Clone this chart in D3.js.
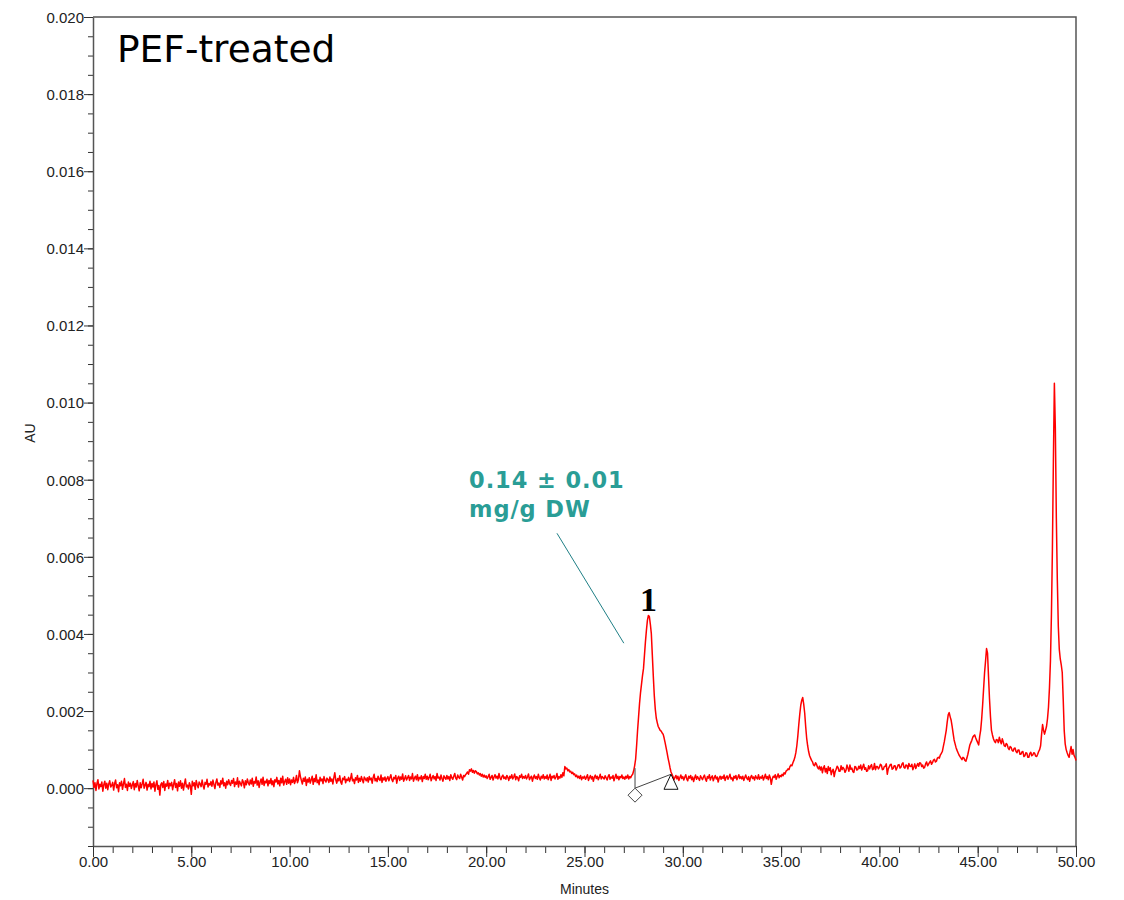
<!DOCTYPE html>
<html>
<head>
<meta charset="utf-8">
<script src="https://cdn.jsdelivr.net/npm/d3@7"></script>
<style>
  body { margin: 0; background: #fff; }
  .tick text { font-family: "Liberation Sans", Arial, sans-serif; font-size: 15px; fill: #222; }
</style>
</head>
<body>
<div id="chart"></div>
<script>
// detector signal, one reading every 0.05 min from 0.00 to 50.00, in units of 1e-5 AU
var sampleStep = 0.05;
var signal = [
  20, 2, 14, -6, 12, 22, -2, 10, 4, 16, -8, 9, 18, 0, 13, -4, 11, 19, 3, 7,
  15, -5, 12, 21, 1, 9, -9, 14, 6, 18, -3, 11, 25, 2, 10, -6, 16, 5, 13, -1,
  9, 17, -4, 12, 3, 20, 6, -7, 14, 1, 11, 23, 0, 8, 15, -5, 10, 4, 18, -2,
  12, 3, 16, -8, 9, 19, -3, 7, -18, 10, 14, 2, 17, -6, 11, 5, 20, -1, 13, 6,
  15, -4, 10, 22, 2, 12, -7, 16, 5, 19, 0, 13, -5, 11, 24, 3, 8, -2, 14, 6,
  -16, 18, 6, 14, -3, 20, 9, 1, 16, 11, 4, 21, 7, -2, 15, 10, 23, 3, 12, 8,
  17, 5, 21, 10, -1, 15, 24, 8, 13, 2, 19, 11, 26, 6, 14, 0, 18, 9, 22, 12,
  7, 20, 13, 25, 4, 16, 10, 27, 3, 18, 12, 6, 22, 15, 1, 19, 9, 24, 14, 8,
  21, 11, 26, 5, 17, 13, 29, 8, 19, 2, 16, 24, 10, 28, 7, 18, 14, 23, 6, 20,
  12, 25, 9, 19, 4, 22, 16, 28, 11, 20, 6, 26, 14, 31, 8, 17, 23, 10, 27, 13,
  24, 9, 21, 15, 28, 12, 19, 33, 14, 22, 45, 30, 20, 11, 26, 18, 29, 7, 23, 16,
  27, 13, 22, 31, 10, 25, 17, 35, 14, 21, 9, 28, 19, 24, 12, 30, 20, 16, 26, 22,
  15, 29, 18, 24, 11, 27, 40, 21, 13, 25, 19, 32, 16, 10, 26, 22, 30, 14, 23, 20,
  28, 17, 25, 38, 19, 23, 12, 27, 21, 33, 15, 26, 18, 30, 22, 14, 29, 24, 19, 27,
  16, 30, 22, 26, 13, 28, 36, 19, 25, 17, 31, 23, 20, 34, 15, 27, 21, 29, 18, 25,
  30, 19, 27, 35, 22, 17, 28, 24, 33, 13, 26, 31, 20, 29, 23, 37, 18, 25, 32, 21,
  27, 33, 20, 29, 24, 38, 18, 26, 31, 22, 35, 19, 28, 24, 32, 17, 30, 25, 36, 23,
  31, 22, 28, 36, 19, 27, 33, 24, 30, 20, 38, 26, 29, 21, 34, 25, 18, 32, 27, 23,
  33, 24, 30, 20, 35, 27, 23, 31, 38, 26, 22, 34, 28, 25, 36, 29, 21, 33, 30, 35,
  38, 42, 36, 48, 44, 50, 41, 46, 39, 45, 43, 37, 40, 34, 38, 31, 36, 29, 34, 28,
  32, 25, 30, 36, 23, 28, 33, 21, 29, 35, 26, 31, 24, 38, 27, 22, 30, 34, 25, 29,
  23, 33, 28, 20, 31, 26, 35, 24, 29, 37, 22, 30, 27, 19, 32, 28, 36, 25, 30, 26,
  33, 24, 29, 37, 22, 27, 31, 18, 28, 34, 25, 30, 23, 36, 27, 21, 31, 26, 35, 24,
  30, 25, 34, 22, 28, 36, 20, 31, 27, 33, 24, 29, 38, 23, 30, 26, 35, 28, 40, 32,
  56, 50, 52, 45, 48, 42, 44, 38, 41, 35, 37, 30, 34, 27, 31, 25, 33, 22, 29, 26,
  31, 23, 28, 35, 20, 27, 33, 24, 30, 18, 29, 34, 25, 31, 22, 28, 36, 24, 30, 27,
  24, 32, 27, 21, 30, 35, 23, 29, 26, 33, 19, 28, 36, 25, 31, 22, 30, 27, 34, 25,
  29, 23, 31, 26, 34, 24, 30, 27, 33, 36, 45, 58, 75, 110, 150, 185, 220, 248, 270, 292,
  310, 345, 380, 410, 435, 448, 445, 425, 400, 345, 290, 240, 205, 182, 170, 160, 155, 150, 148, 143,
  140, 130, 118, 105, 92, 78, 66, 53, 42, 36, 30, 22, 28, 33, 24, 31, 20, 27, 34, 25,
  30, 21, 28, 35, 24, 19, 31, 26, 33, 22, 29, 17, 27, 34, 23, 30, 25, 20, 32, 27,
  22, 29, 34, 24, 18, 30, 26, 35, 21, 28, 32, 19, 27, 33, 24, 29, 16, 26, 31, 23,
  30, 25, 34, 20, 28, 32, 23, 29, 36, 24, 27, 19, 31, 26, 33, 22, 28, 35, 25, 30,
  24, 31, 20, 27, 34, 26, 22, 30, 18, 28, 33, 25, 29, 21, 32, 27, 24, 35, 23, 29,
  26, 33, 21, 28, 36, 25, 30, 22, 34, 27, 10, 24, 31, 28, 35, 23, 30, 37, 27, 33,
  30, 36, 32, 40, 37, 44, 46, 50, 48, 56, 60, 58, 66, 72, 80, 92, 110, 135, 165, 192,
  215, 228, 235, 218, 195, 160, 130, 110, 95, 84, 78, 72, 68, 60, 58, 66, 62, 54, 50, 57,
  47, 55, 40, 52, 58, 42, 51, 38, 56, 46, 53, 35, 45, 49, 30, 43, 49, 57, 53, 44,
  44, 58, 48, 54, 50, 41, 46, 60, 52, 44, 60, 49, 52, 43, 41, 56, 55, 47, 48, 57,
  51, 60, 47, 55, 62, 49, 53, 44, 45, 58, 50, 57, 61, 48, 50, 64, 48, 56, 56, 50,
  54, 62, 60, 48, 49, 56, 57, 63, 36, 50, 55, 61, 62, 49, 51, 58, 58, 47, 53, 60,
  61, 52, 55, 63, 66, 54, 52, 60, 59, 50, 64, 57, 56, 62, 48, 55, 63, 51, 58, 64,
  57, 66, 65, 56, 60, 52, 54, 63, 68, 58, 62, 67, 71, 62, 66, 73, 75, 68, 70, 78,
  80, 78, 86, 90, 95, 108, 120, 135, 150, 172, 190, 196, 185, 176, 160, 142, 125, 115, 105, 98,
  92, 86, 82, 78, 74, 80, 78, 72, 70, 78, 88, 100, 112, 118, 124, 132, 136, 138, 130, 124,
  118, 112, 134, 150, 178, 215, 258, 300, 330, 362, 350, 290, 232, 185, 150, 138, 128, 122, 118, 126,
  125, 118, 132, 122, 115, 128, 120, 110, 108, 116, 113, 104, 100, 108, 106, 98, 96, 103, 104, 95,
  92, 99, 99, 88, 88, 94, 95, 82, 84, 92, 91, 80, 80, 90, 93, 84, 86, 92, 90, 83,
  82, 88, 95, 100, 110, 140, 165, 150, 140, 150, 160, 180, 210, 260, 330, 450, 620, 850, 1050, 930,
  700, 540, 420, 360, 335, 320, 300, 230, 150, 115, 100, 92, 85, 80, 95, 108, 88, 100, 85, 80,
  72
];

var xMajorTicks = [0, 5, 10, 15, 20, 25, 30, 35, 40, 45, 50];
var yMajorTicks = [0, 0.002, 0.004, 0.006, 0.008, 0.010, 0.012, 0.014, 0.016, 0.018, 0.020];

// integration marks for peak 1 (start, end) in minutes / AU
var peakStart = { t: 27.57, top: 0.00052, base: 0.0 };
var peakEnd = { t: 29.4, v: 0.00036 };

var svgWidth = 1124;
var svgHeight = 900;
var margin = { top: 17, right: 48, bottom: 54, left: 93 };
var width = svgWidth - margin.left - margin.right;
var height = svgHeight - margin.top - margin.bottom;

var svg = d3.select("#chart").append("svg")
  .attr("width", svgWidth)
  .attr("height", svgHeight);

var g = svg.append("g")
  .attr("transform", `translate(${margin.left}, ${margin.top})`);

var x = d3.scaleLinear().domain([0, 50]).range([0, width]);
var y = d3.scaleLinear().domain([-0.0015, 0.020]).range([height, 0]);

var points = signal.map(function(v, i) {
  return { t: i * sampleStep, v: v * 1e-5 };
});

// frame (top and right edges)
g.append("path")
  .attr("d", `M0,0H${width}V${height}`)
  .attr("fill", "none")
  .attr("stroke", "#555")
  .attr("stroke-width", 1.5);

// minor ticks
var xMinor = d3.range(0, 51, 1);
var yMinor = d3.range(-15, 201, 5).map(d => d / 10000);

g.append("g")
  .attr("transform", `translate(0, ${height})`)
  .call(d3.axisBottom(x).tickValues(xMinor).tickSize(7).tickFormat("").tickSizeOuter(0))
  .call(s => s.select(".domain").remove())
  .selectAll("line").attr("stroke", "#333");

g.append("g")
  .call(d3.axisLeft(y).tickValues(yMinor).tickSize(5).tickFormat("").tickSizeOuter(0))
  .call(s => s.select(".domain").remove())
  .selectAll("line").attr("stroke", "#333");

// major axes
var xAxis = g.append("g")
  .attr("transform", `translate(0, ${height})`)
  .call(d3.axisBottom(x).tickValues(xMajorTicks).tickFormat(d3.format(".2f")).tickSize(11).tickSizeOuter(0));
xAxis.select(".domain").attr("stroke", "#555").attr("stroke-width", 1.5);
xAxis.selectAll(".tick line").attr("stroke", "#333");
xAxis.selectAll(".tick text").attr("dy", "0.55em").attr("y", 13);

var yAxis = g.append("g")
  .call(d3.axisLeft(y).tickValues(yMajorTicks).tickFormat(d3.format(".3f")).tickSize(9).tickSizeOuter(0));
yAxis.select(".domain").attr("stroke", "#555").attr("stroke-width", 1.5);
yAxis.selectAll(".tick line").attr("stroke", "#333");
yAxis.selectAll(".tick text").attr("x", -9).attr("dy", "0.36em");

// axis titles
svg.append("text")
  .attr("x", margin.left + x(25))
  .attr("y", 894)
  .attr("text-anchor", "middle")
  .attr("font-family", "Liberation Sans, Arial, sans-serif")
  .attr("font-size", 14)
  .attr("fill", "#222")
  .text("Minutes");

svg.append("text")
  .attr("transform", "translate(35, 433) rotate(-90)")
  .attr("text-anchor", "middle")
  .attr("font-family", "Liberation Sans, Arial, sans-serif")
  .attr("font-size", 14)
  .attr("fill", "#222")
  .text("AU");

// chromatogram trace
var line = d3.line()
  .x(d => x(d.t))
  .y(d => y(d.v));

g.append("path")
  .datum(points)
  .attr("fill", "none")
  .attr("stroke", "#ff0000")
  .attr("stroke-width", 1.5)
  .attr("stroke-linejoin", "round")
  .attr("d", line);

// integration baseline markers
g.append("line")
  .attr("x1", x(peakStart.t)).attr("x2", x(peakStart.t))
  .attr("y1", y(peakStart.top)).attr("y2", y(peakStart.base))
  .attr("stroke", "#444").attr("stroke-width", 1);

g.append("line")
  .attr("x1", x(peakStart.t)).attr("y1", y(peakStart.base))
  .attr("x2", x(peakEnd.t)).attr("y2", y(peakEnd.v))
  .attr("stroke", "#444").attr("stroke-width", 1);

var dx = x(peakStart.t), dy = y(peakStart.base) + 7;
g.append("path")
  .attr("d", `M${dx},${dy - 7}L${dx + 7},${dy}L${dx},${dy + 7}L${dx - 7},${dy}Z`)
  .attr("fill", "#fff").attr("stroke", "#444").attr("stroke-width", 1);

var tx = x(peakEnd.t), ty = y(peakEnd.v);
g.append("path")
  .attr("d", `M${tx},${ty}L${tx + 7},${ty + 15}L${tx - 7},${ty + 15}Z`)
  .attr("fill", "none").attr("stroke", "#111").attr("stroke-width", 1);

// peak label
g.append("text")
  .attr("x", x(28.25))
  .attr("y", y(0.00459))
  .attr("text-anchor", "middle")
  .attr("font-family", "Liberation Serif, Times New Roman, serif")
  .attr("font-weight", "700")
  .attr("font-size", 34)
  .attr("fill", "#000")
  .text("1");

// concentration annotation
g.append("line")
  .attr("x1", x(23.6)).attr("y1", y(0.00661))
  .attr("x2", x(27.0)).attr("y2", y(0.00376))
  .attr("stroke", "#1f7f86").attr("stroke-width", 1);

var ann = g.append("text")
  .attr("font-family", "DejaVu Sans, Verdana, sans-serif")
  .attr("font-weight", "700")
  .attr("font-size", 22.5)
  .attr("letter-spacing", 0.9)
  .attr("fill", "#2a9d96");
ann.append("tspan").attr("x", x(19.13)).attr("y", y(0.00778)).text("0.14 ± 0.01");
ann.append("tspan").attr("x", x(19.13)).attr("y", y(0.00703)).text("mg/g DW");

// sample title
svg.append("text")
  .attr("x", 117)
  .attr("y", 62)
  .attr("font-family", "DejaVu Sans, Verdana, sans-serif")
  .attr("font-size", 37.5)
  .attr("fill", "#000")
  .text("PEF-treated");
</script>
</body>
</html>
